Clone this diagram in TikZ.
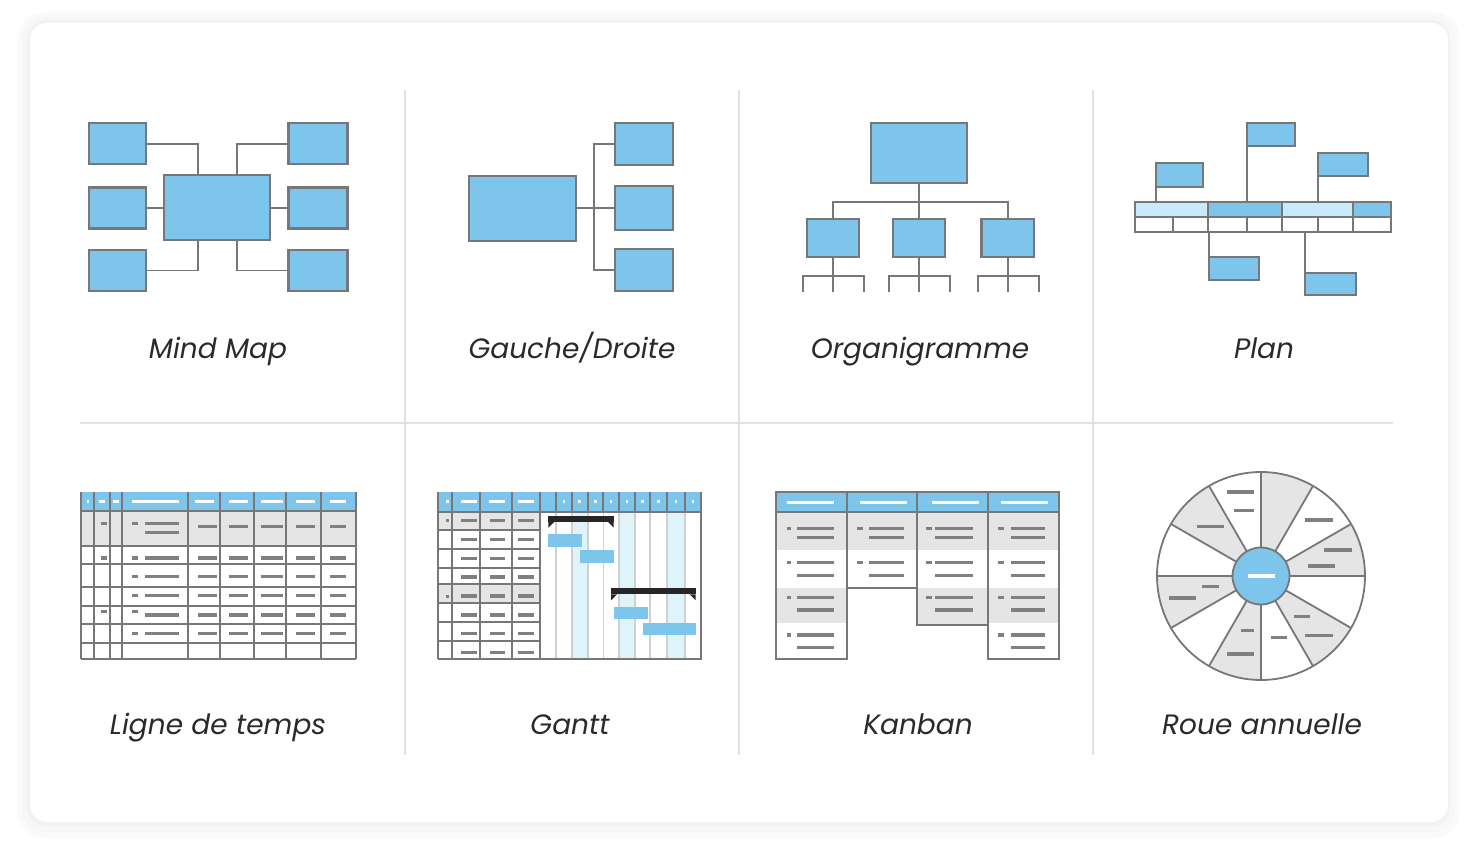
\documentclass[tikz,border=0pt]{standalone}
\usepackage{fontspec}
\setmainfont{Poppins}
\definecolor{boxblue}{HTML}{7DC5EB}
\definecolor{paleblue}{HTML}{C8EAFA}
\definecolor{colblue}{HTML}{DFF3FB}
\definecolor{rimgray}{HTML}{777777}
\definecolor{dashgray}{HTML}{808080}
\definecolor{rowgray}{HTML}{E5E5E5}
\definecolor{tickgray}{HTML}{D0D0D0}
\definecolor{linegray}{HTML}{E2E2E2}
\definecolor{labelgray}{HTML}{2A2A2A}
\definecolor{barblack}{HTML}{262626}
\begin{document}
\begin{tikzpicture}[x=1pt,y=-1pt,
    box/.style={draw=rimgray,fill=boxblue,line width=2.2pt,inner sep=0pt,outer sep=0pt},
    wire/.style={draw=rimgray,line width=1.8pt},
    cell/.style={draw=rimgray,line width=2.2pt},
    textbar/.style={dashgray,line width=3.4pt},
    wtextbar/.style={white,line width=3.4pt},
    caption/.style={font=\itshape\fontsize{28}{32}\selectfont,text=labelgray,anchor=base}]
\useasboundingbox (0,0) rectangle (1478,858);
% card with soft shadow
\fill[black!2,rounded corners=26pt] (18,12) rectangle (1460,838);
\fill[black!3,rounded corners=22pt] (22,16) rectangle (1455,832);
\fill[black!5,rounded corners=19pt] (27,20) rectangle (1450,826);
\fill[white,rounded corners=17pt] (30,23) rectangle (1448,822);
% dividers
\draw[linegray,line width=2pt] (80,423) -- (1393,423);
\foreach \x in {405,739,1093}
    \draw[linegray,line width=2pt] (\x,90) -- (\x,755);

% Mind Map
\node[box,minimum width=57pt,minimum height=41pt] (mmtl) at (117.6,143.8) {};
\node[box,minimum width=57pt,minimum height=41pt] (mml) at (117.6,208) {};
\node[box,minimum width=57pt,minimum height=41pt] (mmbl) at (117.6,270.5) {};
\node[box,minimum width=59pt,minimum height=41pt] (mmtr) at (318,143.8) {};
\node[box,minimum width=59pt,minimum height=41pt] (mmr) at (318,208) {};
\node[box,minimum width=59pt,minimum height=41pt] (mmbr) at (318,270.5) {};
\node[box,minimum width=106pt,minimum height=65pt] (mmc) at (217.3,207.5) {};
\draw[wire] (mmtl.east) -| ([xshift=33.4pt]mmc.north west);
\draw[wire] ([xshift=-33.6pt]mmc.north east) |- (mmtr.west);
\draw[wire] (mml.east) -- (mml.east -| mmc.west);
\draw[wire] (mmr.west) -- (mmr.west -| mmc.east);
\draw[wire] ([xshift=33.4pt]mmc.south west) |- (mmbl.east);
\draw[wire] ([xshift=-33.6pt]mmc.south east) |- (mmbr.west);
\node[caption] (lblmind) at (218,358.3) {Mind Map};

% Gauche/Droite
\node[box,minimum width=107pt,minimum height=65pt] (gdc) at (522.7,208.2) {};
\node[box,minimum width=57.7pt,minimum height=41.5pt] (gdr1) at (644.2,144) {};
\node[box,minimum width=57.7pt,minimum height=44pt] (gdr2) at (644.2,208.2) {};
\node[box,minimum width=57.7pt,minimum height=41.5pt] (gdr3) at (644.2,270) {};
\draw[wire] (gdc.east) -- (gdr2.west);
\draw[wire] (gdr1.west) -- ++(-21,0) |- (gdr3.west);
\node[caption] (lblgd) at (572,358.3) {Gauche/Droite};

% Organigramme
\node[box,minimum width=96pt,minimum height=60pt] (orgtop) at (919,152.7) {};
\node[box,minimum width=52.5pt,minimum height=38.3pt] (orgc1) at (832.9,237.9) {};
\node[box,minimum width=52.5pt,minimum height=38.3pt] (orgc2) at (919,237.9) {};
\node[box,minimum width=52.5pt,minimum height=38.3pt] (orgc3) at (1007.8,237.9) {};
\draw[wire] (orgtop.south) -- (orgc2.north);
\draw[wire] (orgc1.north) -- ++(0,-17) -| (orgc3.north);
\foreach \c in {orgc1,orgc2,orgc3} {
    \draw[wire] (\c.south) -- ++(0,34.7);
    \draw[wire] ([shift={(-30,34.7)}]\c.south) |- ([shift={(31,19)}]\c.south) -- ++(0,15.7);
}
\node[caption] (lblorg) at (920,358.3) {Organigramme};

% Plan
\coordinate (plantop) at (1135,201.7);
\coordinate (planbot) at (1135,231.7);
\fill[paleblue] (1135,201.7) rectangle (1208.3,216.7);
\fill[boxblue] (1208.3,201.7) rectangle (1282.3,216.7);
\fill[paleblue] (1282.3,201.7) rectangle (1352.7,216.7);
\fill[boxblue] (1352.7,201.7) rectangle (1390.7,216.7);
\draw[cell] (1135,201.7) rectangle (1390.7,231.7);
\draw[cell] (1135,216.7) -- (1390.7,216.7);
\foreach \x in {1208.3,1282.3,1352.7}
    \draw[cell] (\x,201.7) -- (\x,216.7);
\foreach \x in {1173.3,1208.3,1246.7,1282.3,1317.7,1352.7}
    \draw[cell] (\x,216.7) -- (\x,231.7);
\node[box,minimum width=47.6pt,minimum height=23.4pt] (pa) at (1179.5,175) {};
\node[box,minimum width=48pt,minimum height=23.3pt] (pb) at (1270.7,134.3) {};
\node[box,minimum width=50.6pt,minimum height=23pt] (pc) at (1343,164.8) {};
\node[box,minimum width=50.6pt,minimum height=22.7pt] (pd) at (1234,268.6) {};
\node[box,minimum width=50.7pt,minimum height=22.6pt] (pe) at (1330.3,284) {};
\draw[wire] (pa.south west) -- (pa.south west |- plantop);
\draw[wire] (pb.south west) -- (pb.south west |- plantop);
\draw[wire] (pc.south west) -- (pc.south west |- plantop);
\draw[wire] (pd.north west) -- (pd.north west |- planbot);
\draw[wire] (pe.north west) -- (pe.north west |- planbot);
\node[caption] (lblplan) at (1264,358.3) {Plan};

% Ligne de temps
\fill[boxblue] (81,491.7) rectangle (355.7,511);
\fill[rowgray] (81,511) rectangle (355.7,545.7);
\foreach \y in {511,545.7,564.3,586.7,605.7,624.3,643.3}
    \draw[cell] (81,\y) -- (355.7,\y);
\foreach \x in {81,94,110,122.3,188.3,220,254.3,286,320.7,355.7}
    \draw[cell] (\x,491.7) -- (\x,659);
\draw[cell] (81,659) -- (355.7,659);
\draw[wtextbar,line width=3pt] (86.5,501.3) -- (88.5,501.3);
\draw[wtextbar] (99,501.3) -- (105,501.3);
\draw[wtextbar] (113,501.3) -- (119,501.3);
\draw[wtextbar] (132,501.3) -- (179,501.3);
\foreach \a/\b in {195/214,229.3/248.3,260.7/283.3,295.7/315,330/345.7}
    \draw[wtextbar] (\a,501.3) -- (\b,501.3);
\draw[textbar] (100.7,523.3) -- (106.7,523.3);
\draw[textbar] (132.3,523.3) -- (137.7,523.3);
\draw[textbar] (145,523.3) -- (179,523.3);
\draw[textbar] (145,532.7) -- (179,532.7);
\foreach \a/\b in {198.3/216.7,229.3/248.3,261/283.3,295.7/315,330/346}
    \draw[textbar] (\a,526.7) -- (\b,526.7);
\foreach \y in {558,576.7,595.7,633.7} {
    \draw[textbar] (132.3,\y) -- (137.7,\y);
    \draw[textbar] (145,\y) -- (179,\y);
    \foreach \a/\b in {198.3/216.7,229.3/248.3,261/283.3,295.7/315,330/346}
        \draw[textbar] (\a,\y) -- (\b,\y);
}
\draw[textbar] (100.7,558) -- (106.7,558);
\draw[textbar] (100.7,611.7) -- (106.7,611.7);
\draw[textbar] (132.3,611.7) -- (137.7,611.7);
\draw[textbar] (145,615) -- (179,615);
\foreach \a/\b in {198.3/216.7,229.3/248.3,261/283.3,295.7/315,330/346}
    \draw[textbar] (\a,615) -- (\b,615);
\node[caption] (lbltime) at (218,734.3) {Ligne de temps};

% Gantt
\fill[boxblue] (438.3,491.7) rectangle (700.7,511.7);
\fill[rowgray] (438.3,511.7) rectangle (540,530);
\fill[rowgray] (438.3,584.3) rectangle (540,602.7);
\foreach \a/\b in {571.7/587.7,619/635,666.7/685}
    \fill[colblue] (\a,511.7) rectangle (\b,659);
\foreach \x in {556,571.7,587.7,603.3,619,635,650,666.7,685}
    \draw[tickgray,line width=1.6pt] (\x,511.7) -- (\x,659);
\foreach \y in {511.7,530,549,567.7,584.3,602.7,621.7,640.7}
    \draw[cell] (438.3,\y) -- (540,\y);
\draw[cell] (438.3,511.7) -- (700.7,511.7);
\foreach \x in {438.3,451.7,480,511.7,540}
    \draw[cell] (\x,491.7) -- (\x,659);
\foreach \x in {556,571.7,587.7,603.3,619,635,650,666.7,685}
    \draw[cell] (\x,491.7) -- (\x,511.7);
\draw[cell] (438.3,659) -- (700.7,659) -- (700.7,491.7);
\draw[wtextbar,line width=3pt] (445.8,501.3) -- (448.5,501.3);
\foreach \a/\b in {461/476.7,489.3/505,518.3/534}
    \draw[wtextbar] (\a,501.3) -- (\b,501.3);
\foreach \a/\b in {556/571.7,571.7/587.7,587.7/603.3,603.3/619,619/635,635/650,650/666.7,666.7/685,685/700.7}
    \draw[wtextbar,line width=3pt] ({(\a+\b)/2-1.3},501.3) -- ({(\a+\b)/2+1.3},501.3);
\draw[textbar,line width=3pt] (445.8,520.7) -- (448.5,520.7);
\draw[textbar,line width=3pt] (445.8,596) -- (448.5,596);
\foreach \y in {520.7,539.3,558.3,577,596,615,633.7,652.7}
    \foreach \a/\b in {461/476.7,490/505.3,518.3/534}
        \draw[textbar] (\a,\y) -- (\b,\y);
\fill[barblack] (548.3,516) rectangle (613.7,521.7);
\fill[barblack] (548.3,521.7) -- (548.3,527.7) -- (554.3,521.7) -- cycle;
\fill[barblack] (613.7,521.7) -- (613.7,527.7) -- (607.7,521.7) -- cycle;
\fill[barblack] (611,588.3) rectangle (695.7,594.3);
\fill[barblack] (611,594.3) -- (611,600.3) -- (617,594.3) -- cycle;
\fill[barblack] (695.7,594.3) -- (695.7,600.3) -- (689.7,594.3) -- cycle;
\fill[boxblue] (548.3,534.3) rectangle (582.3,546.7);
\fill[boxblue] (579.7,550.3) rectangle (613.7,562.7);
\fill[boxblue] (614,607) rectangle (648.3,619.3);
\fill[boxblue] (642.7,623.3) rectangle (695.7,635);
\node[caption] (lblgantt) at (570,734.3) {Gantt};

% Kanban
\fill[boxblue] (776,492.3) rectangle (1059,511.7);
\foreach \l/\r in {776/846.7,846.7/917.3,917.3/988.3,988.3/1059}
    \fill[rowgray] (\l,511.7) rectangle (\r,550);
\fill[rowgray] (776,588.3) rectangle (846.7,622.7);
\fill[rowgray] (917.3,587.7) rectangle (988.3,625);
\fill[rowgray] (988.3,588.3) rectangle (1059,622.7);
\draw[cell] (776,492.3) rectangle (846.7,659);
\draw[cell] (846.7,492.3) rectangle (917.3,587.7);
\draw[cell] (917.3,492.3) rectangle (988.3,625);
\draw[cell] (988.3,492.3) rectangle (1059,659);
\draw[cell] (776,511.7) -- (1059,511.7);
\foreach \a/\b in {787.3/834.3,860/906.7,931.7/979,1001/1048.3}
    \draw[wtextbar] (\a,502.7) -- (\b,502.7);
% cards: left edge of square, square width, line start, line end, number of cards
\foreach \q/\w/\a/\b/\n in {787.3/3.4/796.7/834.3/4,856.7/6/869.3/903.7/2,926/6/935.3/972.7/3,998.3/6/1011/1045.3/4}
    \foreach \u/\v [count=\k] in {528.3/537.7,562.7/575.3,597.3/610,635/647.7} {
        \ifnum\k>\n\else
        \draw[textbar] (\q,\u) -- ++(\w,0);
        \draw[textbar] (\a,\u) -- (\b,\u);
        \draw[textbar] (\a,\v) -- (\b,\v);
        \fi
    }
\node[caption] (lblkanban) at (918,734.3) {Kanban};

% Roue annuelle
\coordinate (wheel) at (1261,576);
\fill[white] (wheel) circle (104);
\foreach \t in {30,90,...,330}
    \fill[rowgray] (wheel) -- ++(\t:104) arc (\t:\t+30:104) -- cycle;
\draw[rimgray,line width=1.8pt] (wheel) circle (104);
\foreach \t in {0,30,...,330}
    \draw[rimgray,line width=1.8pt] (wheel) -- ++(\t:104);
\foreach \a/\b/\y in {1226.7/1254/492,1234/1254/510.7,1196.7/1224/526.7,1305/1332.7/520,1324/1351.7/550,1307.7/1335/566,1201.7/1219.3/586.7,1169.3/1196/598,1294/1310/616.7,1305/1332.7/635.7,1270.7/1286.7/637.7,1240.7/1254/630.7,1226.7/1254/654}
    \draw[textbar] (\a,\y) -- (\b,\y);
\node[circle,draw=rimgray,fill=boxblue,line width=1.8pt,minimum size=57pt,inner sep=0pt] (hub) at (wheel) {};
\draw[white,line width=4pt] ([xshift=-13.5pt]hub.center) -- ([xshift=13.5pt]hub.center);
\node[caption] (lblroue) at (1262,734.3) {Roue annuelle};
\end{tikzpicture}
\end{document}
